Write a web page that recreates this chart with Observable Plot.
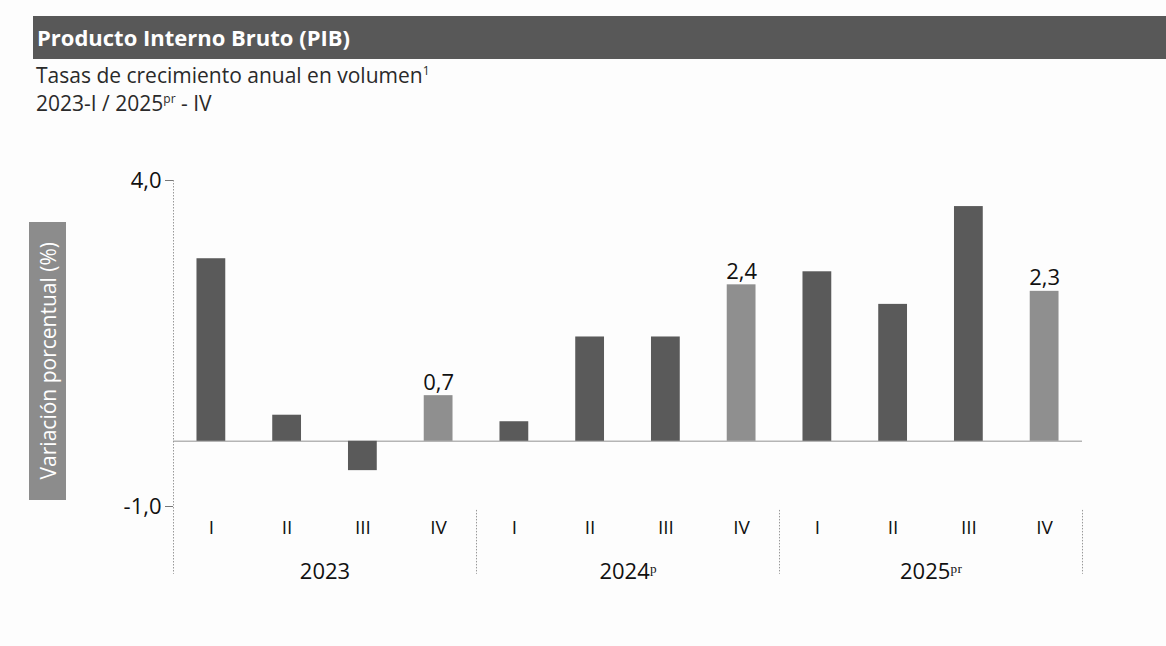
<!DOCTYPE html>
<html>
<head>
<meta charset="utf-8">
<script src="https://cdn.jsdelivr.net/npm/d3@7"></script>
<script src="https://cdn.jsdelivr.net/npm/@observablehq/plot@0.6"></script>
<style>
  html, body { margin: 0; padding: 0; background: #fdfdfd; width: 1166px; height: 646px; overflow: hidden; font-family: "Open Sans", sans-serif; }
  #title { position: absolute; left: 33px; top: 16px; width: 1133px; height: 43px; background: #585858; color: #fff;
    font-weight: bold; font-size: 22px; line-height: 43px; padding-left: 4px; box-sizing: border-box; }
  .sub { position: absolute; left: 36px; font-size: 21px; color: #2a2a2a; white-space: nowrap; }
  .sub sup { font-size: 12px; }
  #ylab { position: absolute; left: 29px; top: 222px; width: 37px; height: 278px; background: #8c8c8c; color: #fff;
    display: flex; align-items: center; justify-content: center; }
  #ylab span { writing-mode: vertical-rl; transform: rotate(180deg); font-size: 21px; white-space: nowrap; }
  #chart { position: absolute; left: 0; top: 130px; }
</style>
</head>
<body>
<div id="title">Producto Interno Bruto (PIB)</div>
<div class="sub" style="top:61px">Tasas de crecimiento anual en volumen<sup>1</sup></div>
<div class="sub" style="top:89px">2023-I / 2025<sup>pr</sup> - IV</div>
<div id="ylab"><span>Variación porcentual (%)</span></div>
<div id="chart"></div>
<script>
// ---- data ----
const years = ["2023", "2024", "2025"];
const yearLabels = ["2023", "2024ᵖ", "2025ᵖʳ"];
const quarters = ["I", "II", "III", "IV"];
const values = [2.8, 0.4, -0.45, 0.7, 0.3, 1.6, 1.6, 2.4, 2.6, 2.1, 3.6, 2.3];
const labelledKeys = ["2023-IV", "2024-IV", "2025-IV"];
const yTicks = [4, -1];

// ---- build table ----
const data = [];
years.forEach((y, i) => quarters.forEach((q, j) => {
  data.push({ key: y + "-" + q, year: y, q, value: values[i * 4 + j] });
}));
const keys = data.map(d => d.key);
const labelled = data.filter(d => labelledKeys.includes(d.key));
const yearData = years.map((y, i) => ({ key: y + "-II", label: yearLabels[i] }));
const fmt = v => v.toFixed(1).replace(".", ",");

const W = 1166, ML = 173, MR = 84;
const step = (W - ML - MR) / keys.length;

const chart = Plot.plot({
  width: W,
  height: 516,
  marginTop: 50,
  marginBottom: 140,
  marginLeft: ML,
  marginRight: MR,
  x: { domain: keys, paddingInner: 0.62, paddingOuter: 0.31, round: false, axis: null },
  y: { domain: [-1, 4], axis: null },
  style: { fontFamily: "Open Sans", background: "transparent", color: "#111", overflow: "visible" },
  marks: [
    Plot.ruleY([0], { stroke: "#b5b5b5", strokeWidth: 1.5 }),
    Plot.barY(data.filter(d => d.q !== "IV"), { x: "key", y: "value", fill: "#5a5a5a" }),
    Plot.barY(data.filter(d => d.q === "IV"), { x: "key", y: "value", fill: "#8f8f8f" }),
    Plot.ruleX([keys[0]], { dx: -step / 2, y1: 4, y2: -2.04, stroke: "#999", strokeDasharray: "1.5 1.5" }),
    Plot.ruleX(["2024-I", "2025-I"], { dx: -step / 2, y1: -1.06, y2: -2.04, stroke: "#999", strokeDasharray: "1.5 1.5" }),
    Plot.ruleX(["2025-IV"], { dx: step / 2, y1: -1.06, y2: -2.04, stroke: "#999", strokeDasharray: "1.5 1.5" }),
    Plot.axisY({ ticks: yTicks, tickFormat: fmt, tickSize: 8, tickPadding: 4, fontSize: 22, stroke: "#777", label: null }),
    Plot.axisX({ tickSize: 0, tickPadding: 14, fontSize: 19, tickFormat: k => k.split("-")[1], label: null }),
    Plot.text(labelled, { x: "key", y: "value", text: d => fmt(d.value), lineAnchor: "bottom", dy: -6, fontSize: 22 }),
    Plot.text(yearData, { x: "key", text: "label", dx: step / 2, frameAnchor: "bottom", dy: 72, fontSize: 22 })
  ]
});
document.getElementById("chart").appendChild(chart);
</script>
</body>
</html>
